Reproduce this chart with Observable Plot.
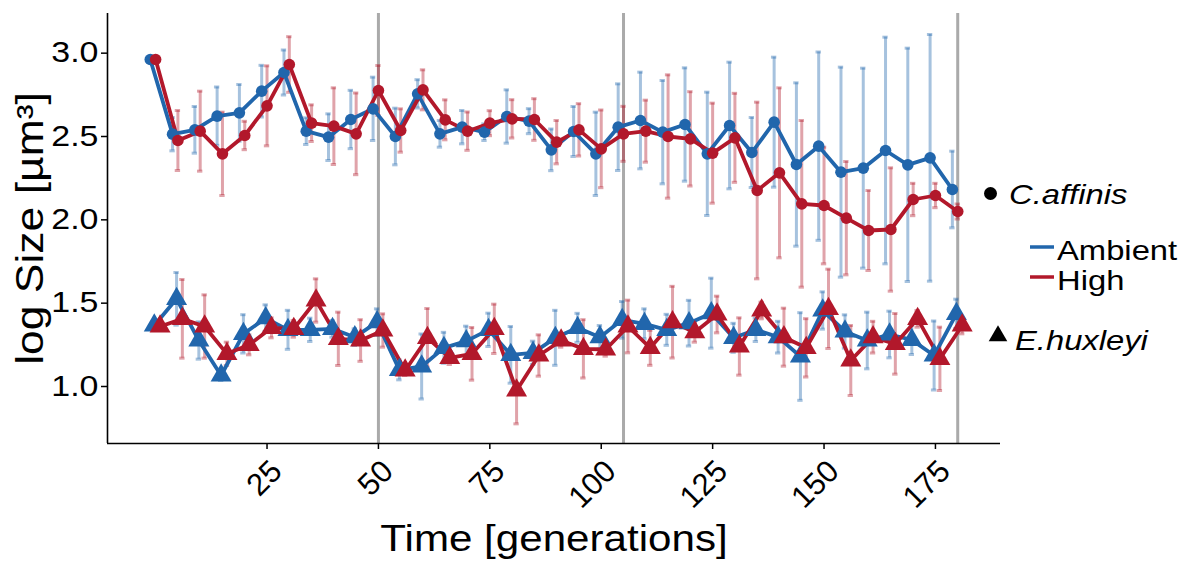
<!DOCTYPE html>
<html><head><meta charset="utf-8">
<script src="https://cdn.jsdelivr.net/npm/d3@7"></script>
<script src="https://cdn.jsdelivr.net/npm/@observablehq/plot@0.6"></script>
<style>
body{margin:0;background:#fff;}
#wrap{position:relative;width:1186px;height:566px;font-family:"Liberation Sans",Arial,sans-serif;}
#wrap svg{position:absolute;left:0;top:0;}
</style></head><body><div id="wrap"></div>
<script>
// ---- data ----
const times = [0,5,10,15,20,25,30,35,40,45,50,55,60,65,70,75,80,85,90,95,100,105,110,115,120,125,130,135,140,145,150,155,160,165,170,175,180];
const xTicks = [25,50,75,100,125,150,175];
const yTicks = [1.0,1.5,2.0,2.5,3.0];
const phaseLines = [50,105,180];
const treatments = ["Ambient","High"];
const species = ["C.affinis","E.huxleyi"];

const cAffinisAmbient = [2.962,2.514,2.54,2.622,2.642,2.772,2.884,2.532,2.496,2.602,2.666,2.50,2.756,2.516,2.556,2.526,2.62,2.592,2.42,2.53,2.396,2.556,2.596,2.526,2.572,2.396,2.566,2.404,2.586,2.332,2.442,2.286,2.31,2.416,2.33,2.372,2.182];
const cAffinisAmbientSd = [0,0.10,0.14,0.175,0.17,0.155,0.135,0.08,0.14,0.175,0.19,0.17,0.085,0.08,0.10,0.05,0.16,0.075,0.125,0.15,0.25,0.26,0.29,0.31,0.34,0.37,0.38,0.21,0.39,0.49,0.565,0.63,0.60,0.68,0.70,0.74,0.23];
const cAffinisHigh = [2.962,2.476,2.532,2.396,2.506,2.684,2.932,2.58,2.562,2.516,2.776,2.536,2.78,2.60,2.532,2.58,2.606,2.602,2.466,2.54,2.426,2.516,2.532,2.50,2.486,2.40,2.492,2.176,2.282,2.096,2.086,2.01,1.936,1.942,2.122,2.146,2.05];
const cAffinisHighSd = [0,0.18,0.24,0.25,0.085,0.24,0.167,0.11,0.23,0.245,0.15,0.13,0.12,0.12,0.115,0.075,0.115,0.125,0.13,0.157,0.233,0.165,0.186,0.37,0.283,0.30,0.267,0.53,0.51,0.50,0.35,0.34,0.24,0.37,0.097,0.073,0.045];
const eHuxleyiAmbient = [1.366,1.526,1.276,1.066,1.316,1.41,1.34,1.34,1.346,1.296,1.386,1.10,1.12,1.232,1.272,1.34,1.19,1.202,1.292,1.352,1.296,1.40,1.376,1.34,1.38,1.44,1.292,1.34,1.296,1.18,1.456,1.33,1.276,1.312,1.28,1.186,1.436];
const eHuxleyiAmbientSd = [0,0.158,0.112,0.03,0.115,0.08,0.117,0.07,0.05,0.05,0.08,0.06,0.195,0.093,0.09,0.1,0.17,0.07,0.165,0.087,0.07,0.11,0.09,0.093,0.137,0.21,0.087,0.07,0.095,0.263,0.112,0.1,0.17,0.14,0.088,0.207,0.088];
const eHuxleyiHigh = [1.36,1.406,1.36,1.196,1.25,1.352,1.346,1.516,1.286,1.276,1.336,1.096,1.292,1.172,1.196,1.346,0.976,1.186,1.276,1.226,1.222,1.36,1.232,1.386,1.326,1.432,1.24,1.456,1.296,1.232,1.466,1.156,1.296,1.256,1.406,1.166,1.366];
const eHuxleyiHighSd = [0,0.236,0.19,0.07,0.06,0.06,0.05,0.13,0.16,0.125,0.1,0.03,0.176,0.04,0.158,0.148,0.2,0.124,0.04,0.175,0.04,0.158,0.105,0.215,0.06,0.11,0.172,0.05,0.174,0.175,0.238,0.21,0.095,0.182,0.05,0.19,0.05];

// ---- layout / style ----
const colors = ["#2166AC","#B2182B"];
const xDomain = [-10.8, 189.6];
const yDomain = [0.658, 3.238];
const dodge = {"C.affinis": {Ambient:-1.2, High:0}, "E.huxleyi": {Ambient:-0.3, High:1.0}};
const capHalf = 0.6;
const stretch = 1.17;

const series = [
  {species:"C.affinis", treatment:"Ambient", mean:cAffinisAmbient, sd:cAffinisAmbientSd},
  {species:"C.affinis", treatment:"High", mean:cAffinisHigh, sd:cAffinisHighSd},
  {species:"E.huxleyi", treatment:"Ambient", mean:eHuxleyiAmbient, sd:eHuxleyiAmbientSd},
  {species:"E.huxleyi", treatment:"High", mean:eHuxleyiHigh, sd:eHuxleyiHighSd}
];
const rows = series.flatMap(s => times.map((t, i) => ({
  species: s.species, treatment: s.treatment, key: s.species + "|" + s.treatment,
  x: t + dodge[s.species][s.treatment], y: s.mean[i], sd: s.sd[i]
})));
const bars = rows.filter(d => d.sd > 0);
const ord = d => treatments.indexOf(d.treatment);

const plot = Plot.plot({
  width: 1186, height: 566,
  marginLeft: 107, marginRight: 186, marginTop: 13, marginBottom: 123,
  style: {fontFamily: '"Liberation Sans", Arial, sans-serif', background: "transparent", color: "#000"},
  x: {domain: xDomain},
  y: {domain: yDomain},
  color: {domain: treatments, range: colors},
  marks: [
    Plot.ruleX(phaseLines, {stroke: "#aaaaaa", strokeWidth: 3}),
    Plot.ruleX(bars, {x: "x", y1: d => d.y - d.sd, y2: d => d.y + d.sd, stroke: "treatment", strokeOpacity: 0.4, strokeWidth: 3}),
    Plot.ruleY(bars, {y: d => d.y + d.sd, x1: d => d.x - capHalf, x2: d => d.x + capHalf, stroke: "treatment", strokeOpacity: 0.4, strokeWidth: 3}),
    Plot.ruleY(bars, {y: d => d.y - d.sd, x1: d => d.x - capHalf, x2: d => d.x + capHalf, stroke: "treatment", strokeOpacity: 0.4, strokeWidth: 3}),
    Plot.line(rows, {x: "x", y: "y", z: "key", stroke: "treatment", strokeWidth: 3.8, sort: ord}),
    Plot.dot(rows.filter(d => d.species === "C.affinis"), {x: "x", y: "y", fill: "treatment", r: 5.8, symbol: "circle", sort: ord}),
    Plot.dot(rows.filter(d => d.species === "E.huxleyi"), {x: "x", y: "y", fill: "treatment", r: 7.8, symbol: "triangle", sort: ord}),
    Plot.ruleX([xDomain[0]], {stroke: "#000", strokeWidth: 1.6}),
    Plot.ruleY([yDomain[0]], {stroke: "#000", strokeWidth: 1.6}),
    Plot.axisY({ticks: yTicks, tickFormat: d3.format(".1f"), tickSize: 6, tickPadding: 3, fontSize: 29, label: null, strokeWidth: 1.5}),
    Plot.axisX({ticks: xTicks, tickFormat: () => "", tickSize: 6, label: null, strokeWidth: 1.5}),
    Plot.text(xTicks, {x: d => d, text: d => String(d), frameAnchor: "bottom", rotate: -45, textAnchor: "end", lineAnchor: "top", dx: 1, dy: 14, fontSize: 31}),
    Plot.text(["Time [generations]"], {frameAnchor: "bottom", dy: 96, fontSize: 36, lineAnchor: "middle", textAnchor: "middle"}),
    Plot.text(["log Size [µm³]"], {frameAnchor: "left", dx: -77, rotate: -90, fontSize: 38, lineAnchor: "middle", textAnchor: "middle"})
  ]
});
const wrap = document.getElementById("wrap");
wrap.appendChild(plot);

// ---- legend (drawn as SVG overlay) ----
const ns = "http://www.w3.org/2000/svg";
const leg = document.createElementNS(ns, "svg");
leg.setAttribute("width", 1186); leg.setAttribute("height", 566);
leg.style.fontFamily = '"Liberation Sans", Arial, sans-serif';
function el(tag, attrs, text) {
  const e = document.createElementNS(ns, tag);
  for (const k in attrs) e.setAttribute(k, attrs[k]);
  if (text) e.textContent = text;
  leg.appendChild(e); return e;
}
el("path", {d: d3.symbol(d3.symbolCircle, Math.PI * 6.5 * 6.5)(), transform: "translate(990.5,193.5)", fill: "#000"});
el("text", {x: 1009, y: 204, "font-size": 28, "font-style": "italic", class: "stretch"}, species[0]);
el("line", {x1: 1030, x2: 1054, y1: 247, y2: 247, stroke: colors[0], "stroke-width": 3.5});
el("text", {x: 1057, y: 260, "font-size": 28, class: "stretch"}, treatments[0]);
el("line", {x1: 1030, x2: 1054, y1: 277, y2: 277, stroke: colors[1], "stroke-width": 3.5});
el("text", {x: 1057, y: 290, "font-size": 28, class: "stretch"}, treatments[1]);
el("path", {d: d3.symbol(d3.symbolTriangle, 150)(), transform: "translate(998,336)", fill: "#000"});
el("text", {x: 1015, y: 350, "font-size": 28, "font-style": "italic", class: "stretch"}, species[1]);
wrap.appendChild(leg);

// horizontal widening of the text (the reference glyphs are wider than Arial)
function widen(t) {
  const len = t.getComputedTextLength();
  if (len > 0) { t.setAttribute("textLength", (len * stretch).toFixed(1)); t.setAttribute("lengthAdjust", "spacingAndGlyphs"); }
}
plot.querySelectorAll("g[aria-label='y-axis tick label'] text").forEach(widen);
plot.querySelectorAll("g[aria-label='text'] text").forEach(t => { if (!t.getAttribute("transform") || !/rotate\(-45\)/.test(t.getAttribute("transform"))) widen(t); });
leg.querySelectorAll("text.stretch").forEach(widen);
</script>
</body></html>
